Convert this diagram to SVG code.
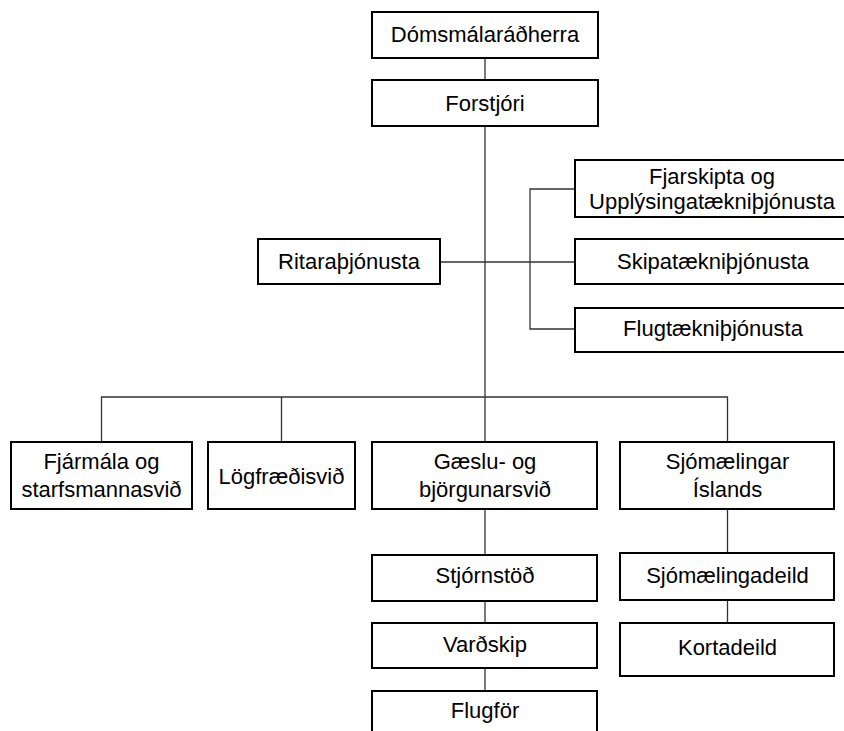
<svg xmlns="http://www.w3.org/2000/svg" width="844" height="731" viewBox="0 0 844 731">
<style>
.box{fill:#fff;stroke:#000;stroke-width:2}
.t{font-family:"Liberation Sans",Arial,sans-serif;font-size:22px;fill:#000;text-anchor:middle}
.ln{fill:none;stroke:#333;stroke-width:1.3}
</style>
<rect width="844" height="731" fill="#fff"/>
<g id="connectors">
<path class="ln" d="M485,58V80"/>
<path class="ln" d="M485,126V442"/>
<path class="ln" d="M440,262H575"/>
<path class="ln" d="M575,189H530V329H575"/>
<path class="ln" d="M101.5,442V397H727.5V442"/>
<path class="ln" d="M281.5,397V442"/>
<path class="ln" d="M485,509V555M485,601V623M485,668V691"/>
<path class="ln" d="M727.5,509V553M727.5,600V623"/>
</g>
<g id="n-domsmalaradherra"><rect class="box" x="372" y="12" width="226" height="46"/><text class="t" x="485" y="42">Dómsmálaráðherra</text></g>
<g id="n-forstjori"><rect class="box" x="372" y="80" width="226" height="46"/><text class="t" x="485" y="111">Forstjóri</text></g>
<g id="n-ritarathjonusta"><rect class="box" x="258" y="239" width="182" height="45"/><text class="t" x="349" y="269">Ritaraþjónusta</text></g>
<g id="n-fjarskipta"><rect class="box" x="575" y="160" width="280" height="57"/><text class="t" x="712" y="184">Fjarskipta og</text><text class="t" x="712" y="209">Upplýsingatækniþjónusta</text></g>
<g id="n-skipa"><rect class="box" x="575" y="239" width="280" height="45"/><text class="t" x="713" y="269">Skipatækniþjónusta</text></g>
<g id="n-flugtaekni"><rect class="box" x="575" y="308" width="280" height="44"/><text class="t" x="713" y="336">Flugtækniþjónusta</text></g>
<g id="n-fjarmala"><rect class="box" x="11" y="442" width="181" height="67"/><text class="t" x="101.5" y="469">Fjármála og</text><text class="t" x="101.5" y="497">starfsmannasvið</text></g>
<g id="n-logfraedi"><rect class="box" x="208" y="442" width="147" height="67"/><text class="t" x="281.5" y="484">Lögfræðisvið</text></g>
<g id="n-gaeslu"><rect class="box" x="372" y="442" width="225" height="67"/><text class="t" x="485" y="469">Gæslu- og</text><text class="t" x="485" y="497">björgunarsvið</text></g>
<g id="n-sjomaelingar"><rect class="box" x="620" y="442" width="214" height="67"/><text class="t" x="727.5" y="469">Sjómælingar</text><text class="t" x="727.5" y="497">Íslands</text></g>
<g id="n-stjornstod"><rect class="box" x="372" y="555" width="225" height="46"/><text class="t" x="485" y="583">Stjórnstöð</text></g>
<g id="n-vardskip"><rect class="box" x="372" y="623" width="225" height="45"/><text class="t" x="485" y="652">Varðskip</text></g>
<g id="n-flugfor"><rect class="box" x="372" y="691" width="225" height="50"/><text class="t" x="485" y="718">Flugför</text></g>
<g id="n-sjomaelingadeild"><rect class="box" x="620" y="553" width="214" height="47"/><text class="t" x="727.5" y="583">Sjómælingadeild</text></g>
<g id="n-kortadeild"><rect class="box" x="620" y="623" width="214" height="53"/><text class="t" x="727.5" y="655">Kortadeild</text></g>
</svg>
